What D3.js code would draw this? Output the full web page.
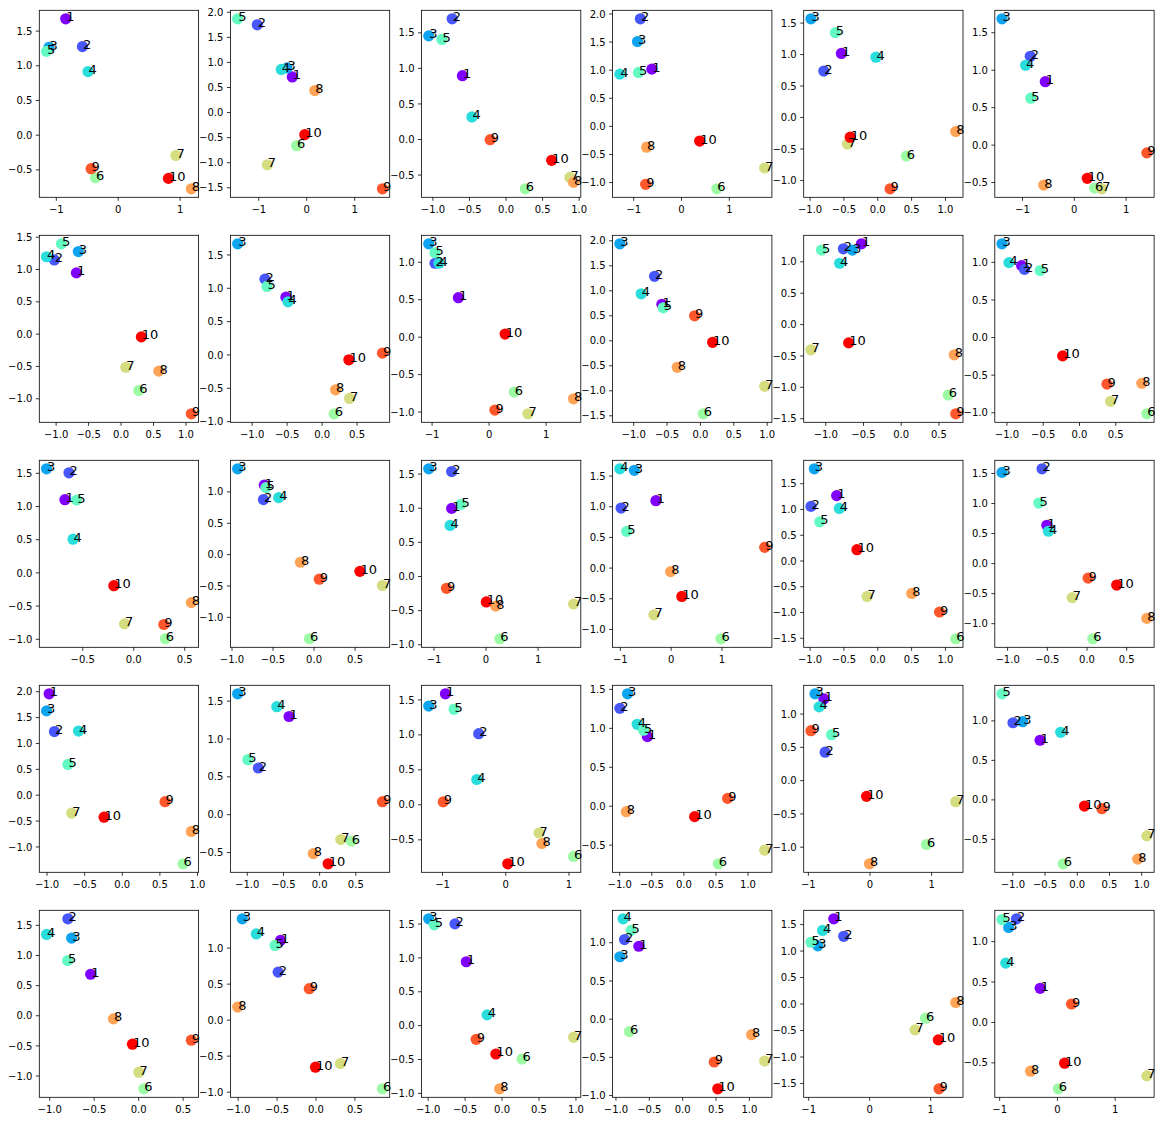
<!DOCTYPE html>
<html>
<head>
<meta charset="utf-8">
<script src="https://cdn.jsdelivr.net/npm/d3@7"></script>
<style>
  html, body { margin: 0; padding: 0; background: #ffffff; }
  svg { display: block; }
</style>
</head>
<body>
<svg id="chart" width="1163" height="1121"></svg>
<script>
// point labels (one per point, same order in every panel)
const pointLabels = ["1", "2", "3", "4", "5", "6", "7", "8", "9", "10"];

// x coordinates of the 10 points, one row per panel (row-major, 5 rows x 6 columns)
const panelX = [
  [-0.84, -0.57, -1.11, -0.48, -1.15, -0.36, 0.94, 1.19, -0.43, 0.82],
  [-0.29, -1.02, -0.40, -0.52, -1.43, -0.20, -0.81, 0.18, 1.59, -0.03],
  [-0.59, -0.73, -1.05, -0.46, -0.87, 0.27, 0.88, 0.93, -0.21, 0.63],
  [-0.61, -0.85, -0.91, -1.28, -0.89, 0.75, 1.75, -0.72, -0.74, 0.39],
  [-0.53, -0.79, -0.98, -0.02, -0.62, 0.43, -0.44, 1.16, 0.19, -0.40],
  [-0.55, -0.84, -1.385, -0.93, -0.83, 0.40, 0.54, -0.58, 1.41, 0.26],

  [-0.68, -1.02, -0.65, -1.14, -0.91, 0.28, 0.08, 0.59, 1.09, 0.32],
  [-0.51, -0.81, -1.20, -0.48, -0.78, 0.18, 0.40, 0.20, 0.87, 0.39],
  [-0.53, -0.94, -1.05, -0.87, -0.94, 0.45, 0.69, 1.49, 0.11, 0.29],
  [-0.57, -0.68, -1.20, -0.88, -0.55, 0.05, 0.97, -0.34, -0.08, 0.19],
  [-0.52, -0.76, -0.64, -0.81, -1.05, 0.63, -1.19, 0.71, 0.73, -0.69],
  [-0.79, -0.75, -1.06, -0.965, -0.535, 0.935, 0.435, 0.865, 0.385, -0.225],

  [-0.67, -0.63, -0.85, -0.59, -0.555, 0.315, -0.085, 0.57, 0.30, -0.19],
  [-0.60, -0.61, -0.925, -0.425, -0.58, -0.05, 0.84, -0.16, 0.07, 0.565],
  [-0.65, -0.65, -1.09, -0.68, -0.47, 0.275, 1.69, 0.195, -0.75, 0.015],
  [-0.29, -0.975, -0.715, -1.00, -0.865, 0.99, -0.33, 0.0, 1.85, 0.22],
  [-0.60, -0.98, -0.93, -0.56, -0.85, 1.16, -0.15, 0.51, 0.92, -0.30],
  [-0.50, -0.56, -1.064, -0.48, -0.60, 0.08, -0.18, 0.76, 0.02, 0.38],

  [-0.965, -0.895, -1.00, -0.575, -0.715, 0.815, -0.665, 0.925, 0.575, -0.235],
  [-0.415, -0.84, -1.126, -0.585, -0.985, 0.445, 0.30, -0.08, 0.875, 0.125],
  [-0.946, -0.42, -1.21, -0.45, -0.81, 1.08, 0.535, 0.58, -0.98, 0.04],
  [-0.56, -0.99, -0.87, -0.72, -0.62, 0.545, 1.267, -0.89, 0.69, 0.176],
  [-0.74, -0.72, -0.884, -0.818, -0.615, 0.925, 1.40, 0.0, -0.95, -0.048],
  [-0.57, -0.99, -0.84, -0.25, -1.16, -0.21, 1.088, 0.946, 0.39, 0.12],

  [-0.534, -0.79, -0.748, -1.03, -0.793, 0.064, 0.008, -0.278, 0.598, -0.064],
  [-0.45, -0.48, -0.94, -0.76, -0.52, 0.86, 0.32, -1.00, -0.08, 0.0],
  [-0.477, -0.63, -0.985, -0.195, -0.91, 0.277, 0.974, -0.026, -0.344, -0.077],
  [-0.649, -0.863, -0.934, -0.885, -0.765, -0.79, 1.236, 1.04, 0.48, 0.534],
  [-0.58, -0.418, -0.842, -0.764, -0.955, 0.925, 0.752, 1.42, 1.146, 1.134],
  [-0.29, -0.70, -0.835, -0.886, -0.95, 0.025, 1.557, -0.456, 0.253, 0.133]
];

// y coordinates of the 10 points, one row per panel
const panelY = [
  [1.67, 1.27, 1.26, 0.91, 1.20, -0.62, -0.30, -0.78, -0.49, -0.63],
  [0.70, 1.74, 0.88, 0.85, 1.86, -0.67, -1.05, 0.43, -1.53, -0.45],
  [0.89, 1.69, 1.45, 0.31, 1.40, -0.70, -0.54, -0.61, -0.01, -0.30],
  [1.01, 1.905, 1.50, 0.92, 0.95, -1.12, -0.75, -0.38, -1.04, -0.27],
  [1.01, 0.73, 1.56, 0.95, 1.34, -0.62, -0.43, -0.23, -1.14, -0.32],
  [0.84, 1.18, 1.68, 1.06, 0.62, -0.58, -0.59, -0.54, -0.11, -0.45],

  [0.94, 1.14, 1.27, 1.19, 1.39, -0.88, -0.52, -0.58, -1.24, -0.05],
  [0.86, 1.13, 1.66, 0.79, 1.02, -0.89, -0.66, -0.53, 0.02, -0.08],
  [0.52, 0.98, 1.24, 0.98, 1.12, -0.74, -1.03, -0.83, -0.98, 0.035],
  [0.72, 1.28, 1.93, 0.93, 0.65, -1.47, -0.92, -0.54, 0.49, -0.04],
  [1.28, 1.20, 1.18, 0.97, 1.18, -1.13, -0.41, -0.49, -1.43, -0.30],
  [0.95, 0.90, 1.24, 0.99, 0.885, -1.02, -0.855, -0.615, -0.625, -0.25],

  [1.095, 1.50, 1.56, 0.50, 1.09, -1.00, -0.775, -0.455, -0.785, -0.20],
  [1.10, 0.87, 1.36, 0.90, 1.06, -1.35, -0.50, -0.13, -0.40, -0.275],
  [0.99, 1.53, 1.57, 0.74, 1.05, -0.92, -0.41, -0.44, -0.18, -0.38],
  [1.09, 0.97, 1.585, 1.61, 0.59, -1.16, -0.77, -0.065, 0.33, -0.47],
  [1.26, 1.05, 1.78, 1.01, 0.75, -1.52, -0.70, -0.64, -1.00, 0.21],
  [0.63, 1.57, 1.51, 0.53, 1.00, -1.26, -0.575, -0.92, -0.25, -0.365],

  [1.95, 1.22, 1.62, 1.23, 0.585, -1.335, -0.355, -0.71, -0.135, -0.435],
  [1.29, 0.61, 1.59, 1.42, 0.72, -0.355, -0.335, -0.52, 0.165, -0.655],
  [1.58, 1.01, 1.405, 0.355, 1.36, -0.745, -0.41, -0.56, 0.035, -0.85],
  [0.887, 1.25, 1.437, 1.045, 0.97, -0.746, -0.571, -0.077, 0.094, -0.14],
  [1.22, 0.42, 1.297, 1.10, 0.683, -0.967, -0.324, -1.257, 0.743, -0.244],
  [0.748, 0.97, 0.983, 0.849, 1.336, -0.815, -0.462, -0.756, -0.118, -0.084],

  [0.68, 1.60, 1.28, 1.34, 0.906, -1.22, -0.945, -0.06, -0.414, -0.48],
  [1.10, 0.66, 1.40, 1.19, 1.03, -0.96, -0.61, 0.175, 0.43, -0.66],
  [0.936, 1.495, 1.57, 0.152, 1.48, -0.50, -0.18, -0.94, -0.21, -0.426],
  [0.948, 1.035, 0.81, 1.307, 1.156, -0.169, -0.554, -0.21, -0.567, -0.918],
  [1.60, 1.27, 1.09, 1.38, 1.157, -0.277, -0.497, 0.02, -1.61, -0.686],
  [0.416, 1.276, 1.169, 0.728, 1.267, -0.827, -0.667, -0.609, 0.222, -0.51]
];

// x-axis tick values per panel
const xTickValues = [
  [-1, 0, 1], [-1, 0, 1], [-1.0, -0.5, 0.0, 0.5, 1.0], [-1, 0, 1], [-1.0, -0.5, 0.0, 0.5, 1.0], [-1, 0, 1],
  [-1.0, -0.5, 0.0, 0.5, 1.0], [-1.0, -0.5, 0.0, 0.5], [-1, 0, 1], [-1.0, -0.5, 0.0, 0.5, 1.0], [-1.0, -0.5, 0.0, 0.5], [-1.0, -0.5, 0.0, 0.5],
  [-0.5, 0.0, 0.5], [-1.0, -0.5, 0.0, 0.5], [-1, 0, 1], [-1, 0, 1, 2], [-1.0, -0.5, 0.0, 0.5, 1.0], [-1.0, -0.5, 0.0, 0.5],
  [-1.0, -0.5, 0.0, 0.5, 1.0], [-1.0, -0.5, 0.0, 0.5], [-1, 0, 1], [-1.0, -0.5, 0.0, 0.5, 1.0], [-1, 0, 1], [-1.0, -0.5, 0.0, 0.5, 1.0],
  [-1.0, -0.5, 0.0, 0.5], [-1.0, -0.5, 0.0, 0.5], [-1.0, -0.5, 0.0, 0.5, 1.0], [-1.0, -0.5, 0.0, 0.5, 1.0], [-1, 0, 1], [-1, 0, 1]
];

// y-axis tick values per panel
const yTickValues = [
  [-0.5, 0.0, 0.5, 1.0, 1.5], [-1.5, -1.0, -0.5, 0.0, 0.5, 1.0, 1.5, 2.0], [-0.5, 0.0, 0.5, 1.0, 1.5],
  [-1.0, -0.5, 0.0, 0.5, 1.0, 1.5, 2.0], [-1.0, -0.5, 0.0, 0.5, 1.0, 1.5], [-0.5, 0.0, 0.5, 1.0, 1.5],
  [-1.0, -0.5, 0.0, 0.5, 1.0, 1.5], [-1.0, -0.5, 0.0, 0.5, 1.0, 1.5], [-1.0, -0.5, 0.0, 0.5, 1.0],
  [-1.5, -1.0, -0.5, 0.0, 0.5, 1.0, 1.5, 2.0], [-1.5, -1.0, -0.5, 0.0, 0.5, 1.0], [-1.0, -0.5, 0.0, 0.5, 1.0],
  [-1.0, -0.5, 0.0, 0.5, 1.0, 1.5], [-1.0, -0.5, 0.0, 0.5, 1.0], [-1.0, -0.5, 0.0, 0.5, 1.0, 1.5],
  [-1.0, -0.5, 0.0, 0.5, 1.0, 1.5], [-1.5, -1.0, -0.5, 0.0, 0.5, 1.0, 1.5], [-1.0, -0.5, 0.0, 0.5, 1.0, 1.5],
  [-1.0, -0.5, 0.0, 0.5, 1.0, 1.5, 2.0], [-0.5, 0.0, 0.5, 1.0, 1.5], [-0.5, 0.0, 0.5, 1.0, 1.5],
  [-0.5, 0.0, 0.5, 1.0, 1.5], [-1.0, -0.5, 0.0, 0.5, 1.0], [-0.5, 0.0, 0.5, 1.0],
  [-1.0, -0.5, 0.0, 0.5, 1.0, 1.5], [-1.0, -0.5, 0.0, 0.5, 1.0], [-1.0, -0.5, 0.0, 0.5, 1.0, 1.5],
  [-1.0, -0.5, 0.0, 0.5, 1.0], [-1.5, -1.0, -0.5, 0.0, 0.5, 1.0, 1.5], [-0.5, 0.0, 0.5, 1.0]
];

// ---- layout ----
const nRows = 5, nCols = 6;
const axLeft0 = 39.3, axTop0 = 10.3;
const axW = 159.3, axH = 187;
const pitchX = 191.1, pitchY = 225;
const font = "'DejaVu Sans', sans-serif";

// matplotlib "rainbow" colormap
function rainbow(t) {
  const c = v => Math.max(0, Math.min(1, v));
  const r = c(Math.abs(2 * t - 0.5));
  const g = c(Math.sin(Math.PI * t));
  const b = c(Math.cos(Math.PI * t / 2));
  return d3.rgb(r * 255, g * 255, b * 255).formatHex();
}
const colorScale = d3.scaleSequential(rainbow).domain([0, pointLabels.length - 1]);

function fmtTicks(vals) {
  const allInt = vals.every(v => Math.abs(v - Math.round(v)) < 1e-9);
  const f = allInt ? d3.format("d") : d3.format(".1f");
  return v => f(v).replace("-", "\u2212");
}

function padDomain(vals) {
  const mn = d3.min(vals), mx = d3.max(vals);
  const r = mx - mn;
  return [mn - 0.05 * r, mx + 0.05 * r];
}

const svg = d3.select("#chart");

for (let p = 0; p < nRows * nCols; p++) {
  const row = Math.floor(p / nCols), col = p % nCols;
  const left = axLeft0 + col * pitchX;
  const top = axTop0 + row * pitchY;
  const xs = panelX[p], ys = panelY[p];

  const x = d3.scaleLinear().domain(padDomain(xs)).range([left, left + axW]);
  const y = d3.scaleLinear().domain(padDomain(ys)).range([top + axH, top]);

  const g = svg.append("g");

  const xd = x.domain(), yd = y.domain();
  const xt = xTickValues[p].filter(v => v >= xd[0] - 1e-9 && v <= xd[1] + 1e-9);
  const yt = yTickValues[p].filter(v => v >= yd[0] - 1e-9 && v <= yd[1] + 1e-9);
  const fx = fmtTicks(xTickValues[p]);
  const fy = fmtTicks(yTickValues[p]);

  const xAxis = d3.axisBottom(x).tickValues(xt).tickFormat(fx).tickSize(3.5).tickPadding(3.5);
  const yAxis = d3.axisLeft(y).tickValues(yt).tickFormat(fy).tickSize(3.5).tickPadding(3.5);

  const gx = g.append("g").attr("transform", `translate(0,${top + axH})`).call(xAxis);
  const gy = g.append("g").attr("transform", `translate(${left},0)`).call(yAxis);
  [gx, gy].forEach(a => {
    a.select(".domain").remove();
    a.selectAll(".tick line").attr("stroke", "#000").attr("stroke-width", 0.8);
    a.selectAll(".tick text").attr("fill", "#000").style("font-family", font).style("font-size", "10px");
  });
  gx.selectAll(".tick text").attr("dy", null).attr("y", 15.5);
  gy.selectAll(".tick text").attr("dy", "0.36em").attr("x", -7);

  // points
  g.append("g").selectAll("circle")
    .data(pointLabels)
    .join("circle")
    .attr("cx", (d, i) => x(xs[i]))
    .attr("cy", (d, i) => y(ys[i]))
    .attr("r", 5.6)
    .attr("fill", (d, i) => colorScale(i));

  // labels
  g.append("g").selectAll("text")
    .data(pointLabels)
    .join("text")
    .attr("x", (d, i) => x(xs[i]) + 0.5)
    .attr("y", (d, i) => y(ys[i]) + 2.5)
    .style("font-family", font)
    .style("font-size", "13px")
    .attr("fill", "#000")
    .text(d => d);

  // frame (spines)
  g.append("rect")
    .attr("x", left).attr("y", top)
    .attr("width", axW).attr("height", axH)
    .attr("fill", "none").attr("stroke", "#000").attr("stroke-width", 0.8);
}
</script>
</body>
</html>
